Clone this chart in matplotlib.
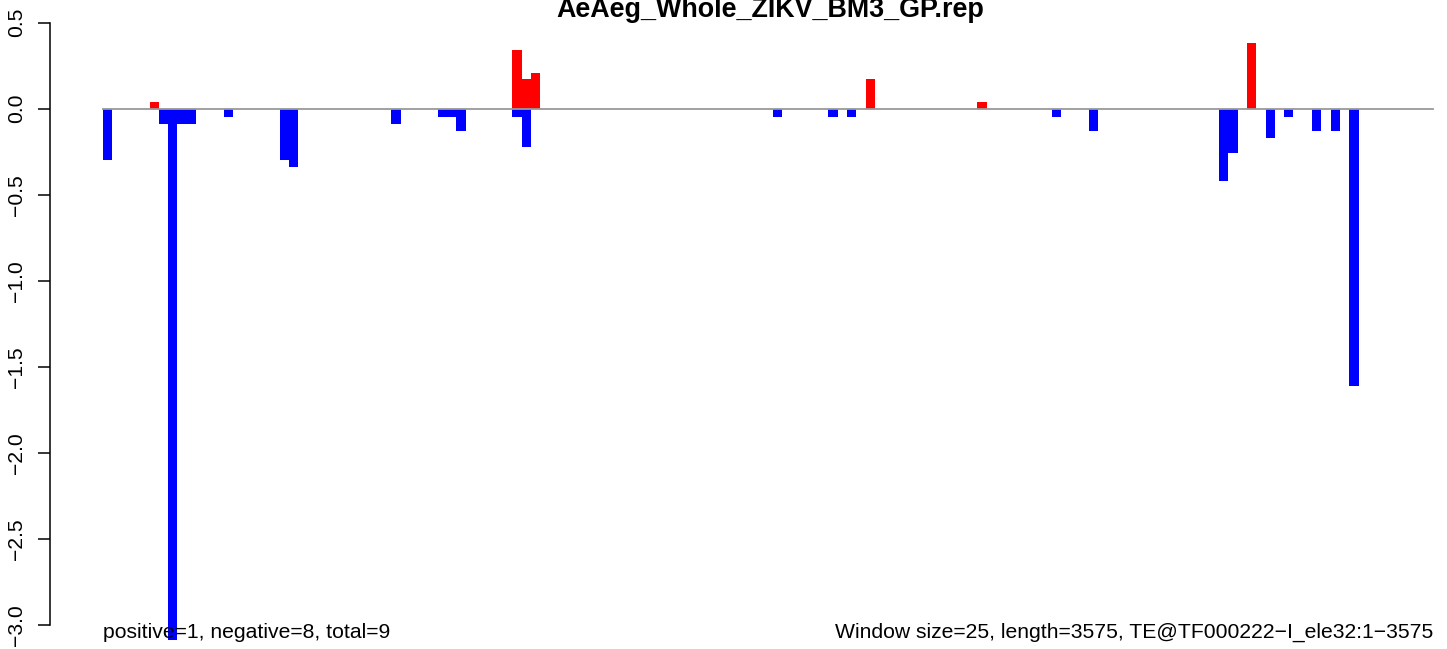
import matplotlib
matplotlib.use("Agg")
import matplotlib.pyplot as plt
import numpy as np

plt.rcParams['font.family'] = ['Liberation Sans', 'DejaVu Sans']

title = "AeAeg_Whole_ZIKV_BM3_GP.rep"
n_windows = 143

# window index -> value (positive hits in red, negative in blue)
pos_idx = [5, 44, 45, 46, 82, 94, 123]
pos_val = [0.04, 0.34, 0.17, 0.21, 0.17, 0.04, 0.38]

neg_idx = [0, 6, 7, 8, 9, 13, 19, 20, 31, 36, 37, 38, 44, 45,
           72, 78, 80, 102, 106, 120, 121, 125, 127, 130, 132, 134]
neg_val = [-0.30, -0.09, -3.09, -0.09, -0.09, -0.05, -0.30, -0.34, -0.09,
           -0.05, -0.05, -0.13, -0.05, -0.22, -0.05, -0.05, -0.05, -0.05,
           -0.13, -0.42, -0.26, -0.17, -0.05, -0.13, -0.13, -1.61]

y_ticks = [0.5, 0.0, -0.5, -1.0, -1.5, -2.0, -2.5, -3.0]

left_note = "positive=1, negative=8, total=9"
right_note = "Window size=25, length=3575, TE@TF000222\u2212I_ele32:1\u22123575"

W, H = 1447, 649
fig = plt.figure(figsize=(W / 100, H / 100), dpi=100)

# plot region: pixel 50 .. 1447 horizontally, full height
ax = fig.add_axes([50 / W, 0, 1 - 50 / W, 1])
step = 9.3
x0 = 103
ax.set_xlim(-(x0 - 50) / step, n_windows + (W - (x0 + n_windows * step)) / step)
ax.set_ylim(-(H - 108.7) / 172, 108.7 / 172)

ax.bar(neg_idx, neg_val, width=1, align='edge', color='#0000ff', linewidth=0)
ax.bar(pos_idx, pos_val, width=1, align='edge', color='#ff0000', linewidth=0)
ax.plot([0, n_windows], [0, 0], color='#999999', lw=1.3, zorder=3)

for s in ['top', 'right', 'bottom']:
    ax.spines[s].set_visible(False)
ax.spines['left'].set_bounds(-3.0, 0.5)
ax.spines['left'].set_linewidth(1.1)
ax.set_xticks([])
ax.set_yticks(y_ticks)
ax.set_yticklabels([f"{v:.1f}".replace('-', '\u2212') for v in y_ticks],
                   rotation=90, va='center', fontsize=15.2)
ax.tick_params(axis='y', length=8.6, width=1.1, pad=8.5)

fig.text(770 / W, 1 - 17 / H, title, ha='center', va='baseline',
         fontsize=19.4, fontweight='bold')
fig.text(x0 / W, (H - 638) / H, left_note, ha='left', va='baseline', fontsize=15.2)
fig.text((x0 + n_windows * step) / W, (H - 638) / H, right_note,
         ha='right', va='baseline', fontsize=15.2)

fig.savefig('out.png', dpi=100)
